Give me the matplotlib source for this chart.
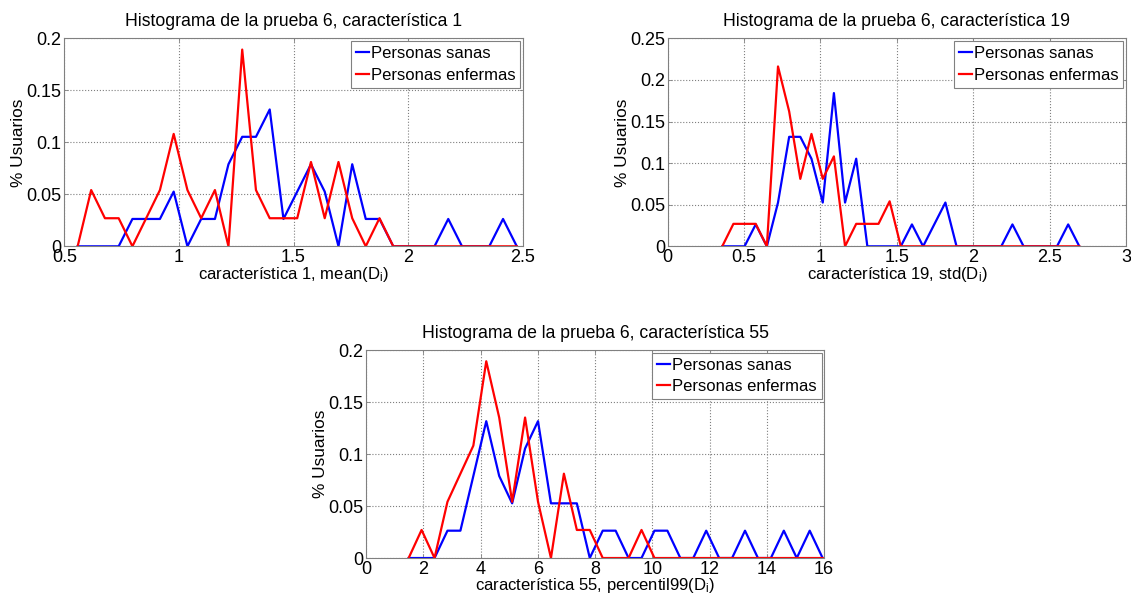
import matplotlib
matplotlib.use("Agg")
import matplotlib.pyplot as plt

plt.rcParams['font.family'] = ['Liberation Sans', 'DejaVu Sans']
plt.rcParams['mathtext.fontset'] = 'custom'
plt.rcParams['mathtext.rm'] = 'Liberation Sans'
plt.rcParams['mathtext.it'] = 'Liberation Sans'

# ---------------- data ----------------
x1 = [0.558, 0.617, 0.677, 0.737, 0.797, 0.857, 0.917, 0.977, 1.037, 1.097, 1.157,
      1.216, 1.276, 1.336, 1.396, 1.456, 1.516, 1.576, 1.636, 1.696, 1.756, 1.815,
      1.875, 1.935, 1.995, 2.055, 2.115, 2.175, 2.235, 2.295, 2.354, 2.414, 2.474]
sanas1 = [0, 0, 0, 0, 0.0263, 0.0263, 0.0263, 0.0526, 0, 0.0263, 0.0263, 0.0789,
          0.1053, 0.1053, 0.1316, 0.0263, 0.0526, 0.0789, 0.0526, 0, 0.0789, 0.0263,
          0.0263, 0, 0, 0, 0, 0.0263, 0, 0, 0, 0.0263, 0]
enfermas1 = [0, 0.0541, 0.0270, 0.0270, 0, 0.0270, 0.0541, 0.1081, 0.0541, 0.0270,
             0.0541, 0, 0.1892, 0.0541, 0.0270, 0.0270, 0.0270, 0.0811, 0.0270, 0.0811,
             0.0270, 0, 0.0270, 0, 0, 0, 0, 0, 0, 0, 0, 0, 0]

x2 = [0.357, 0.430, 0.503, 0.576, 0.649, 0.722, 0.795, 0.868, 0.941, 1.015, 1.088,
      1.161, 1.234, 1.307, 1.380, 1.453, 1.526, 1.599, 1.672, 1.745, 1.818, 1.891,
      1.964, 2.037, 2.110, 2.184, 2.257, 2.330, 2.403, 2.476, 2.549, 2.622, 2.695]
sanas2 = [0, 0, 0, 0.0263, 0, 0.0526, 0.1316, 0.1316, 0.1053, 0.0526, 0.1842, 0.0526,
          0.1053, 0, 0, 0, 0, 0.0263, 0, 0.0263, 0.0526, 0, 0, 0, 0, 0, 0.0263, 0, 0,
          0, 0, 0.0263, 0]
enfermas2 = [0, 0.0270, 0.0270, 0.0270, 0, 0.2162, 0.1622, 0.0811, 0.1351, 0.0811,
             0.1081, 0, 0.0270, 0.0270, 0.0270, 0.0541, 0, 0, 0, 0, 0, 0, 0, 0, 0, 0,
             0, 0, 0, 0, 0, 0, 0]

x3 = [1.490, 1.942, 2.394, 2.846, 3.298, 3.750, 4.201, 4.653, 5.105, 5.557, 6.009,
      6.461, 6.913, 7.365, 7.817, 8.269, 8.720, 9.172, 9.624, 10.076, 10.528, 10.980,
      11.432, 11.884, 12.336, 12.788, 13.239, 13.691, 14.143, 14.595, 15.047, 15.499,
      15.951]
sanas3 = [0, 0, 0, 0.0263, 0.0263, 0.0789, 0.1316, 0.0789, 0.0526, 0.1053, 0.1316,
          0.0526, 0.0526, 0.0526, 0, 0.0263, 0.0263, 0, 0, 0.0263, 0.0263, 0, 0,
          0.0263, 0, 0, 0.0263, 0, 0, 0.0263, 0, 0.0263, 0]
enfermas3 = [0, 0.0270, 0, 0.0541, 0.0811, 0.1081, 0.1892, 0.1351, 0.0541, 0.1351,
             0.0541, 0, 0.0811, 0.0270, 0.0270, 0, 0, 0, 0.0270, 0, 0, 0, 0, 0, 0, 0,
             0, 0, 0, 0, 0, 0, 0]

titles = ['Histograma de la prueba 6, característica 1',
          'Histograma de la prueba 6, característica 19',
          'Histograma de la prueba 6, característica 55']
xlabels = [r'característica 1, mean(D$_\mathrm{i}$)',
           r'característica 19, std(D$_\mathrm{i}$)',
           r'característica 55, percentil99(D$_\mathrm{i}$)']
xlims = [(0.5, 2.5), (0, 3), (0, 16)]
ylims = [(0, 0.2), (0, 0.25), (0, 0.2)]
xticks = [[0.5, 1, 1.5, 2, 2.5], [0, 0.5, 1, 1.5, 2, 2.5, 3], [0, 2, 4, 6, 8, 10, 12, 14, 16]]
yticks = [[0, 0.05, 0.1, 0.15, 0.2], [0, 0.05, 0.1, 0.15, 0.2, 0.25], [0, 0.05, 0.1, 0.15, 0.2]]
xtick_labels = [['0.5', '1', '1.5', '2', '2.5'], ['0', '0.5', '1', '1.5', '2', '2.5', '3'],
                ['0', '2', '4', '6', '8', '10', '12', '14', '16']]
ytick_labels = [['0', '0.05', '0.1', '0.15', '0.2'], ['0', '0.05', '0.1', '0.15', '0.2', '0.25'],
                ['0', '0.05', '0.1', '0.15', '0.2']]
legend_labels = ['Personas sanas', 'Personas enfermas']

xs = [x1, x2, x3]
sanas = [sanas1, sanas2, sanas3]
enfermas = [enfermas1, enfermas2, enfermas3]

fig = plt.figure(figsize=(11.31, 5.99), dpi=100)
positions = [[0.0569, 0.5888, 0.4053, 0.3472],
             [0.5904, 0.5888, 0.4051, 0.3472],
             [0.3236, 0.0684, 0.4050, 0.3472]]

for k in range(3):
    ax = fig.add_axes(positions[k])
    ax.plot(xs[k], sanas[k], color='#0000FF', lw=1.6, label=legend_labels[0])
    ax.plot(xs[k], enfermas[k], color='#FF0000', lw=1.6, label=legend_labels[1])
    ax.set_xlim(*xlims[k])
    ax.set_ylim(*ylims[k])
    ax.set_xticks(xticks[k])
    ax.set_xticklabels(xtick_labels[k])
    ax.set_yticks(yticks[k])
    ax.set_yticklabels(ytick_labels[k])
    ax.grid(True, linestyle=':', color='#7f7f7f', lw=0.8)
    for s in ax.spines.values():
        s.set_color('#808080')
        s.set_linewidth(0.8)
    ax.tick_params(direction='in', length=3, width=0.6, colors='#808080',
                   labelcolor='black', labelsize=13, top=True, right=True, pad=2)
    ax.set_title(titles[k], fontsize=12.7, pad=9)
    ax.set_xlabel(xlabels[k], fontsize=12, labelpad=-1)
    ax.set_ylabel('% Usuarios', fontsize=12.4, labelpad=0)
    leg = ax.legend(loc='upper right', fontsize=12, handlelength=0.77, handletextpad=0.12,
                    borderaxespad=0.15, borderpad=0.3, labelspacing=0.4, fancybox=False,
                    framealpha=1, edgecolor='#808080')
    leg.get_frame().set_linewidth(0.8)

fig.savefig('out.png', dpi=100)
